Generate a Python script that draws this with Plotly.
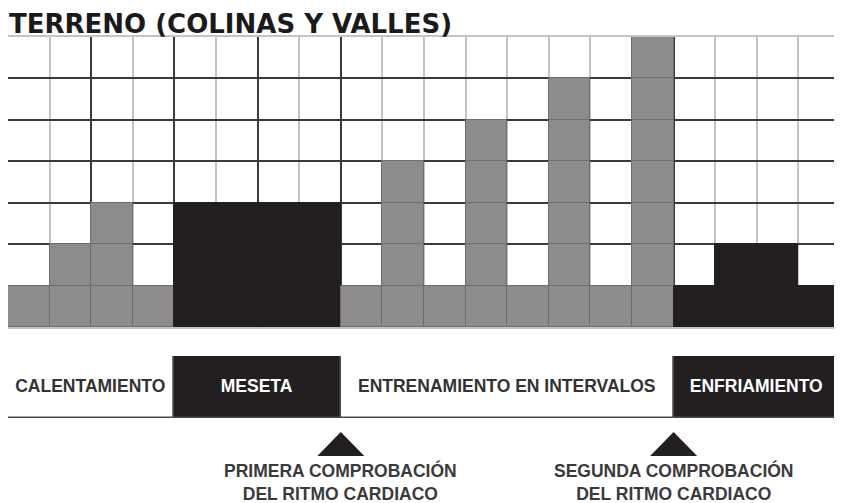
import plotly.graph_objects as go

# ---------------- data ----------------
title_text = "TERRENO (COLINAS Y VALLES)"
heights = [1, 2, 3, 1, 3, 3, 3, 3, 1, 4, 1, 5, 1, 6, 1, 7, 1, 2, 2, 1]
phases = ["CALENTAMIENTO", "MESETA", "ENTRENAMIENTO EN INTERVALOS", "ENFRIAMIENTO"]
phase_cols = [4, 4, 8, 4]
phase_dark = [False, True, False, True]
checkpoints = [8, 16]
checkpoint_labels = ["PRIMERA COMPROBACIÓN<br>DEL RITMO CARDIACO",
                     "SEGUNDA COMPROBACIÓN<br>DEL RITMO CARDIACO"]
n_rows = 7

# ---------------- styles ----------------
GRAY = "#8e8b8c"
GRAY_EDGE = "#6f6c6d"
BLACK = "#231f20"
TEXT_DARK = "#333333"
LIGHT = "#c4c4c4"
FONT = "Liberation Sans, Arial, sans-serif"

# page body has an 8px margin: figure spans 834x495 of the 842x503 window
W, H = 834, 495

# column colours derived from phases
col_fill, col_edge = [], []
for n, dark in zip(phase_cols, phase_dark):
    col_fill += [BLACK if dark else GRAY] * n
    col_edge += [BLACK if dark else GRAY_EDGE] * n
n_cols = len(heights)
xc = [i + 0.5 for i in range(n_cols)]

fig = go.Figure()

# terrain cells: one trace per row level
for lvl in range(1, n_rows + 1):
    ys = [1 if h >= lvl else None for h in heights]
    fig.add_trace(go.Bar(
        x=xc, y=ys, base=[lvl - 1] * n_cols, width=[1] * n_cols,
        marker=dict(color=col_fill, line=dict(color=col_edge, width=1)),
        xaxis="x", yaxis="y", showlegend=False, hoverinfo="skip",
    ))

# phase band
bases = []
acc = 0
for n in phase_cols:
    bases.append(acc)
    acc += n
fig.add_trace(go.Bar(
    y=[0] * len(phases), x=phase_cols, base=bases, orientation="h", width=1,
    marker=dict(color=[BLACK if d else "white" for d in phase_dark],
                line=dict(color="#4a4a4a", width=1.5)),
    text=[f"<b>{p}</b>" for p in phases], textposition="inside",
    insidetextanchor="middle", textangle=0, constraintext="none",
    textfont=dict(family=FONT, size=17.5,
                  color=["white" if d else TEXT_DARK for d in phase_dark]),
    cliponaxis=False, xaxis="x2", yaxis="y2", showlegend=False, hoverinfo="skip",
))

# checkpoint triangles
tx, ty = [], []
for c in checkpoints:
    tx += [c - 0.565, c + 0.565, c, c - 0.565, None]
    ty += [0, 0, 1, 0, None]
fig.add_trace(go.Scatter(
    x=tx, y=ty, mode="lines", fill="toself", fillcolor=BLACK,
    line=dict(width=0, color=BLACK), xaxis="x3", yaxis="y3",
    showlegend=False, hoverinfo="skip",
))

annotations = [dict(
    text=f"<b>{title_text}</b>", xref="paper", yref="paper",
    x=0.0, y=1.0, xanchor="left", yanchor="top", showarrow=False, borderpad=0,
    font=dict(family="DejaVu Sans, sans-serif", size=26, color="#1a1a1a"),
)]
for c, lab in zip(checkpoints, checkpoint_labels):
    annotations.append(dict(
        text=f"<b>{lab}</b>", xref="x3", yref="paper", x=c, y=(H - 474) / H,
        xanchor="center", yanchor="middle", align="center", showarrow=False,
        font=dict(family=FONT, size=17.5, color="#3a3a3a"),
    ))

xdom = [0, 832 / W]
fig.update_layout(
    width=W, height=H, margin=dict(l=0, r=0, t=0, b=0),
    paper_bgcolor="white", plot_bgcolor="white",
    barmode="overlay", bargap=0,
    annotations=annotations,
    xaxis=dict(domain=xdom, range=[0, n_cols], anchor="y",
               tickmode="array", tickvals=[2, 4, 6, 8, 16],
               showgrid=True, gridcolor="#3a3a3a", gridwidth=1.5,
               minor=dict(tickmode="array", tickvals=list(range(0, n_cols + 1)),
                          showgrid=True, gridcolor=LIGHT, gridwidth=1.5),
               showline=True, mirror=True, linecolor=LIGHT, linewidth=1.5,
               layer="below traces",
               showticklabels=False, ticks="", zeroline=False, fixedrange=True),
    yaxis=dict(domain=[(H - 319) / H, (H - 29) / H], range=[0, n_rows], anchor="x",
               tickmode="array", tickvals=list(range(1, n_rows)),
               showgrid=True, gridcolor="#3a3a3a", gridwidth=1.5,
               minor=dict(tickmode="array", tickvals=list(range(0, n_rows + 1)),
                          showgrid=True, gridcolor=LIGHT, gridwidth=1.5),
               showline=True, mirror=True, linecolor=LIGHT, linewidth=1.5,
               layer="below traces",
               showticklabels=False, ticks="", zeroline=False, fixedrange=True),
    xaxis2=dict(domain=xdom, range=[0, n_cols], anchor="y2", visible=False,
                fixedrange=True),
    yaxis2=dict(domain=[(H - 410) / H, (H - 348) / H], range=[-0.5, 0.5],
                anchor="x2", visible=False, fixedrange=True),
    xaxis3=dict(domain=xdom, range=[0, n_cols], anchor="y3", visible=False,
                fixedrange=True),
    yaxis3=dict(domain=[(H - 448) / H, (H - 424) / H], range=[0, 1], anchor="x3",
                visible=False, fixedrange=True),
)

fig.write_html("out.html")
